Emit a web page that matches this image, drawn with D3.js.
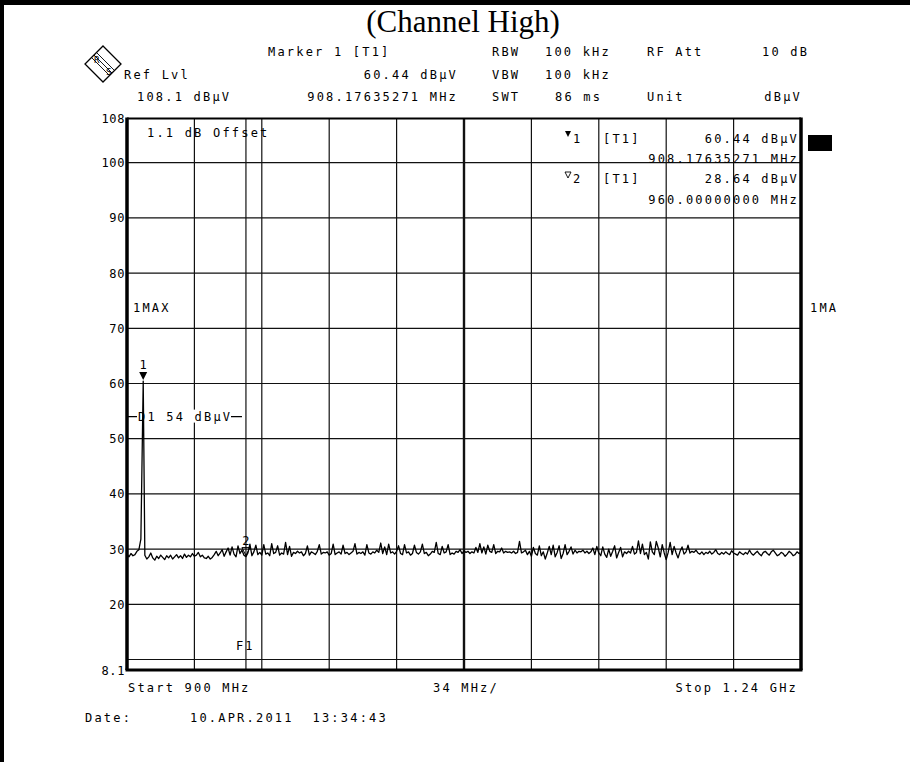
<!DOCTYPE html>
<html><head><meta charset="utf-8">
<script src="https://cdn.jsdelivr.net/npm/d3@7"></script>
<style>
html,body{margin:0;padding:0;background:#fff;}
svg text{font-family:"DejaVu Sans Mono",monospace;font-size:12px;letter-spacing:2.2px;fill:#000;white-space:pre;}
</style></head>
<body>
<svg id="c" width="910" height="762"></svg>
<script>
// ---------- data ----------
const title = "(Channel High)";
const freqStart = 900, freqStop = 1240;         // MHz
const levelBottom = 8.1, levelTop = 108;         // dBµV
const xGridMHz = [934, 968, 1002, 1036, 1070, 1104, 1138, 1172, 1206];
const yGrid = [10, 20, 30, 40, 50, 60, 70, 80, 90, 100];
const yTickLabels = ["108", "100", "90", "80", "70", "60", "50", "40", "30", "20", "8.1"];
const yTickValues = [108, 100, 90, 80, 70, 60, 50, 40, 30, 20, 8.1];

const traceFreq = [
900,901,902,903,904,905,906,907,908.18,909,
910,911,912,913,914,915,916,917,918,919,
920,921,922,923,924,925,926,927,928,929,
930,931,932,933,934,935,936,937,938,939,
940,941,942,943,944,945,946,947,948,949,
950,951,952,953,954,955,956,957,958,959,
960,961,962,963,964,965,966,967,968,969,
970,971,972,973,974,975,976,977,978,979,
980,981,982,983,984,985,986,987,988,989,
990,991,992,993,994,995,996,997,998,999,
1000,1001,1002,1003,1004,1005,1006,1007,1008,1009,
1010,1011,1012,1013,1014,1015,1016,1017,1018,1019,
1020,1021,1022,1023,1024,1025,1026,1027,1028,1029,
1030,1031,1032,1033,1034,1035,1036,1037,1038,1039,
1040,1041,1042,1043,1044,1045,1046,1047,1048,1049,
1050,1051,1052,1053,1054,1055,1056,1057,1058,1059,
1060,1061,1062,1063,1064,1065,1066,1067,1068,1069,
1070,1071,1072,1073,1074,1075,1076,1077,1078,1079,
1080,1081,1082,1083,1084,1085,1086,1087,1088,1089,
1090,1091,1092,1093,1094,1095,1096,1097,1098,1099,
1100,1101,1102,1103,1104,1105,1106,1107,1108,1109,
1110,1111,1112,1113,1114,1115,1116,1117,1118,1119,
1120,1121,1122,1123,1124,1125,1126,1127,1128,1129,
1130,1131,1132,1133,1134,1135,1136,1137,1138,1139,
1140,1141,1142,1143,1144,1145,1146,1147,1148,1149,
1150,1151,1152,1153,1154,1155,1156,1157,1158,1159,
1160,1161,1162,1163,1164,1165,1166,1167,1168,1169,
1170,1171,1172,1173,1174,1175,1176,1177,1178,1179,
1180,1181,1182,1183,1184,1185,1186,1187,1188,1189,
1190,1191,1192,1193,1194,1195,1196,1197,1198,1199,
1200,1201,1202,1203,1204,1205,1206,1207,1208,1209,
1210,1211,1212,1213,1214,1215,1216,1217,1218,1219,
1220,1221,1222,1223,1224,1225,1226,1227,1228,1229,
1230,1231,1232,1233,1234,1235,1236,1237,1238,1239,
1240];
const traceLevel = [
29.1,28.6,29.2,28.8,29.0,29.6,29.9,31.8,60.44,28.9,
28.2,28.6,29.3,28.4,28.0,28.7,28.3,28.9,28.5,28.1,
28.8,28.4,28.9,28.2,28.6,29.0,28.4,28.8,28.3,29.1,
28.5,28.9,28.6,29.2,28.7,28.9,29.4,28.6,28.9,28.4,
28.3,28.7,28.2,28.5,29.0,29.6,28.8,29.3,29.9,28.7,
29.5,30.2,28.9,30.4,29.1,28.6,30.6,29.2,29.8,28.9,
28.64,29.3,30.9,28.8,29.5,30.7,29.0,29.4,28.9,30.8,
29.1,29.3,28.8,31.0,29.2,29.4,30.6,28.9,29.3,29.1,
31.2,29.0,30.5,28.7,29.4,29.2,29.6,29.3,29.5,28.8,
29.2,30.6,28.9,29.5,29.3,29.0,29.6,30.8,29.1,29.4,
29.3,29.5,28.9,29.2,30.9,29.0,29.3,29.5,29.1,30.7,
29.2,29.4,29.0,29.3,29.6,31.0,29.1,29.4,29.2,29.5,
28.9,30.8,29.3,29.1,29.5,29.3,29.8,29.4,31.1,29.2,
30.4,29.0,30.9,29.3,29.5,29.1,29.6,30.6,29.2,29.0,
30.8,29.3,29.5,28.9,29.2,30.7,29.4,29.1,29.5,30.9,
29.2,29.4,28.8,29.1,29.6,29.4,31.2,29.2,29.0,30.5,
29.3,29.5,30.8,29.0,29.3,29.1,29.6,29.4,29.9,29.2,
29.7,29.4,29.6,29.2,29.5,29.3,30.3,29.4,31.0,29.3,
30.4,29.1,30.7,29.6,29.4,30.8,29.2,29.6,29.5,30.2,
29.3,29.6,29.4,29.5,29.3,29.6,29.2,29.4,31.4,29.3,
29.5,29.8,29.0,29.6,28.7,30.3,29.2,28.9,30.6,28.8,
29.5,28.2,29.3,30.5,29.0,30.7,28.6,29.4,30.6,28.3,
29.2,30.8,29.0,29.6,30.4,29.1,29.8,29.3,29.6,29.5,
29.8,29.3,29.6,29.2,29.5,30.2,29.0,30.5,29.3,28.8,
30.4,29.1,28.5,30.0,28.7,29.6,30.6,28.4,29.4,30.3,
28.6,29.5,29.2,29.6,29.3,30.5,29.1,29.4,31.5,29.2,
30.9,29.0,29.4,28.2,31.3,29.5,29.0,31.4,30.2,28.6,
30.8,29.3,28.1,29.4,31.2,29.0,30.5,29.3,28.4,29.6,
30.4,29.1,29.5,30.7,29.3,29.6,29.4,29.8,29.3,29.1,
29.5,29.0,29.4,29.2,29.6,29.1,29.4,29.9,29.2,29.0,
29.4,29.1,29.5,29.2,29.0,29.7,29.3,29.1,28.9,29.5,
29.2,29.0,29.4,29.1,29.8,29.2,28.9,29.3,29.6,29.1,
28.8,29.4,29.6,29.2,28.9,29.5,29.8,29.3,28.8,29.0,
29.4,29.2,28.7,29.1,29.6,29.3,28.8,29.0,29.5,29.2,
29.4];

const marker1 = {f: 908.17635271, level: 60.44};
const marker2 = {f: 960.0, level: 28.64};
const displayLine = 54;   // D1
const freqLine = 960;     // F1

// ---------- drawing ----------
const svg = d3.select("#c");
const X0 = 127, X1 = 801, Y0 = 118.5, Y1 = 670;
const x = d3.scaleLinear().domain([freqStart, freqStop]).range([X0, X1]);
const y = d3.scaleLinear().domain([levelBottom, levelTop]).range([Y1, Y0]);

// page frame
svg.append("rect").attr("x",0).attr("y",0).attr("width",910).attr("height",5).attr("fill","#000");
svg.append("rect").attr("x",0).attr("y",0).attr("width",4).attr("height",762).attr("fill","#000");

// title
svg.append("text").attr("x",463).attr("y",32).attr("text-anchor","middle")
  .style("font-family","'Liberation Serif','Times New Roman',serif").style("font-size","31px").style("letter-spacing","0px")
  .text(title);

// header
const hdr = [
  ["Marker 1 [T1]",268,56,"start"],
  ["Ref Lvl",124,79,"start"],
  ["60.44 dBµV",458,79,"end"],
  ["108.1 dBµV",137,101,"start"],
  ["908.17635271 MHz",458,101,"end"],
  ["RBW",492,56,"start"],["100 kHz",545,56,"start"],["RF Att",647,56,"start"],["10 dB",762,56,"start"],
  ["VBW",492,79,"start"],["100 kHz",545,79,"start"],
  ["SWT",492,101,"start"],["86 ms",555,101,"start"],["Unit",647,101,"start"],["dBµV",802,101,"end"]
];
svg.selectAll("text.hdr").data(hdr).enter().append("text").attr("class","hdr")
  .attr("x",d=>d[1]).attr("y",d=>d[2]).attr("text-anchor",d=>d[3]).text(d=>d[0]);

// R&S logo
const logo = svg.append("g").attr("transform","translate(103,64)");
logo.append("path").attr("d","M0,-18 L18,0 L0,18 L-18,0 Z").attr("fill","none").attr("stroke","#000").attr("stroke-width",1.3);
[-2.5,0,2.5].forEach(o=>logo.append("line").attr("x1",-9+o).attr("y1",-9-o).attr("x2",9+o).attr("y2",9-o)
   .attr("stroke","#000").attr("stroke-width",0.9));
logo.append("text").attr("x",-9).attr("y",-1).style("font-size","9px").style("letter-spacing","0").text("R");
logo.append("text").attr("x",3).attr("y",11).style("font-size","9px").style("letter-spacing","0").text("S");

// grid
const g = svg.append("g");
g.selectAll("line.hg").data(yGrid).enter().append("line")
  .attr("x1",X0).attr("x2",X1).attr("y1",d=>y(d)).attr("y2",d=>y(d))
  .attr("stroke","#111").attr("stroke-width",1.2);
g.selectAll("line.vg").data(xGridMHz).enter().append("line")
  .attr("y1",Y0).attr("y2",Y1).attr("x1",d=>x(d)).attr("x2",d=>x(d))
  .attr("stroke","#111").attr("stroke-width",d=>d===1070?2.4:1.2);
// F1 line
g.append("line").attr("x1",x(freqLine)).attr("x2",x(freqLine)).attr("y1",Y0).attr("y2",Y1).attr("stroke","#111").attr("stroke-width",1.2);

// frame of plot
g.append("line").attr("x1",X0).attr("x2",X1).attr("y1",Y0).attr("y2",Y0).attr("stroke","#000").attr("stroke-width",2);
g.append("line").attr("x1",X0-1.5).attr("x2",X1+1.5).attr("y1",Y1).attr("y2",Y1).attr("stroke","#000").attr("stroke-width",3);
g.append("line").attr("x1",X0).attr("x2",X0).attr("y1",Y0-1).attr("y2",Y1).attr("stroke","#000").attr("stroke-width",3.5);
g.append("line").attr("x1",X1).attr("x2",X1).attr("y1",Y0-1).attr("y2",Y1).attr("stroke","#000").attr("stroke-width",3.5);

// y labels
svg.selectAll("text.yl").data(yTickValues).enter().append("text")
  .attr("x",X0-2).attr("y",d=>y(d)+4.5).attr("text-anchor","end").style("letter-spacing","0.6px")
  .text((d,i)=>yTickLabels[i]);

// D1 display line
const d1y = y(displayLine);
g.append("line").attr("x1",X0).attr("x2",x(958)).attr("y1",d1y).attr("y2",d1y).attr("stroke","#000").attr("stroke-width",1.2);
svg.append("rect").attr("x",137).attr("y",d1y-7).attr("width",94).attr("height",13).attr("fill","#fff");
svg.append("text").attr("x",138).attr("y",d1y+4.5).text("D1 54 dBµV");

// trace
const n = Math.min(traceFreq.length, traceLevel.length);
const pts = d3.range(n).map(i=>[traceFreq[i], traceLevel[i]]);
svg.append("path").datum(pts)
  .attr("d", d3.line().x(d=>x(d[0])).y(d=>y(d[1])))
  .attr("fill","none").attr("stroke","#000").attr("stroke-width",1.3).attr("stroke-linejoin","round");

// marker 1
const m1x = x(marker1.f), m1y = y(marker1.level);
svg.append("path").attr("d",`M${m1x-4},${m1y-9} L${m1x+4},${m1y-9} L${m1x},${m1y-1} Z`).attr("fill","#000");
svg.append("text").attr("x",m1x).attr("y",m1y-12).attr("text-anchor","middle").style("letter-spacing","0").text("1");
// marker 2
const m2x = x(marker2.f), m2y = y(marker2.level);
svg.append("path").attr("d",`M${m2x-4},${m2y-9} L${m2x+4},${m2y-9} L${m2x},${m2y-1} Z`).attr("fill","none").attr("stroke","#000").attr("stroke-width",1);
svg.append("text").attr("x",m2x).attr("y",m2y-12).attr("text-anchor","middle").style("letter-spacing","0").text("2");

// F1 label
svg.append("text").attr("x",x(freqLine)-10).attr("y",650).text("F1");

// in-plot annotations
svg.append("text").attr("x",147).attr("y",137).text("1.1 dB Offset");
svg.append("text").attr("x",133).attr("y",312).text("1MAX");
svg.append("text").attr("x",810).attr("y",312).text("1MA");

// marker table
const tri = (cx,cy,fill)=>svg.append("path").attr("d",`M${cx-3},${cy-3} L${cx+3},${cy-3} L${cx},${cy+3} Z`)
  .attr("fill",fill?"#000":"none").attr("stroke","#000").attr("stroke-width",fill?0:0.9);
tri(568,134,true); tri(568,175,false);
const mt = [
  ["1",573,143,"start"],["[T1]",603,143,"start"],["60.44 dBµV",799,143,"end"],["908.17635271 MHz",799,163,"end"],
  ["2",573,183,"start"],["[T1]",603,183,"start"],["28.64 dBµV",799,183,"end"],["960.00000000 MHz",799,204,"end"]
];
svg.selectAll("text.mt").data(mt).enter().append("text")
  .attr("x",d=>d[1]).attr("y",d=>d[2]).attr("text-anchor",d=>d[3]).text(d=>d[0]);
svg.append("rect").attr("x",808).attr("y",135).attr("width",24).attr("height",16).attr("fill","#000");

// bottom texts
svg.append("text").attr("x",128).attr("y",692).text("Start 900 MHz");
svg.append("text").attr("x",433).attr("y",692).text("34 MHz/");
svg.append("text").attr("x",798).attr("y",692).attr("text-anchor","end").text("Stop 1.24 GHz");
svg.append("text").attr("x",85).attr("y",722).text("Date:");
svg.append("text").attr("x",190).attr("y",722).text("10.APR.2011  13:34:43");
</script>
</body></html>
